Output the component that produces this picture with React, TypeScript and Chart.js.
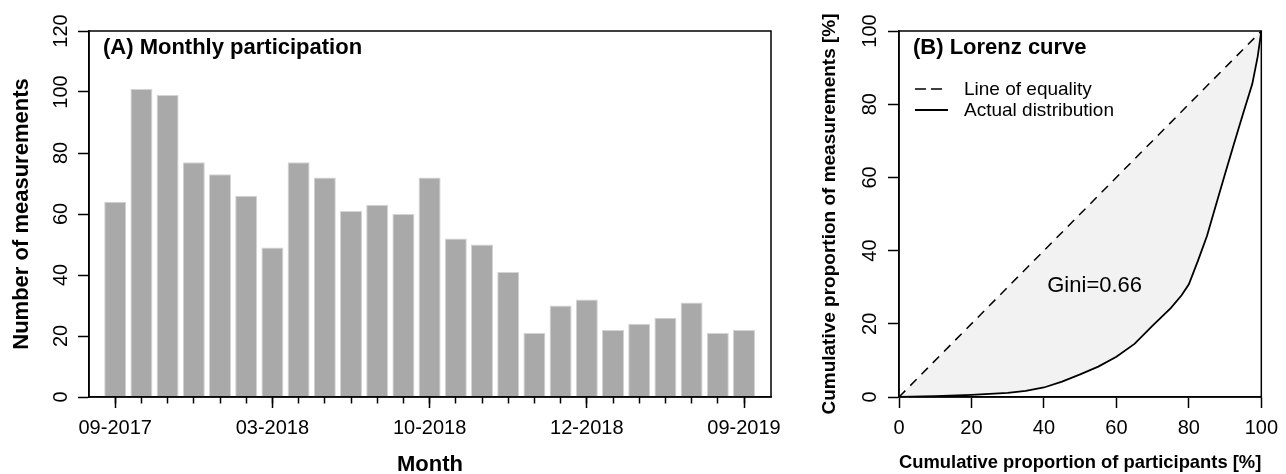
import React, { useEffect, useRef } from 'react';
import { Chart, registerables } from 'chart.js';

Chart.register(...registerables);

// ---------- Data ----------
const monthIndex = [0, 1, 2, 3, 4, 5, 6, 7, 8, 9, 10, 11, 12, 13, 14, 15, 16, 17, 18, 19, 20, 21, 22, 23, 24];
const measurements = [64, 101, 99, 77, 73, 66, 49, 77, 72, 61, 63, 60, 72, 52, 50, 41, 21, 30, 32, 22, 24, 26, 31, 21, 22];
const monthTickPositions = [0, 6, 12, 18, 24];
const monthTickLabels = ['09-2017', '03-2018', '10-2018', '12-2018', '09-2019'];

const lorenzX = [0, 10, 20, 30, 35, 40, 45, 50, 55, 60, 65, 70, 75, 78, 80, 82.5, 85, 87.5, 90, 92.5, 95, 97.5, 99, 100];
const lorenzY = [0, 0.2, 0.6, 1.1, 1.7, 2.6, 4.2, 6.2, 8.3, 11, 14.5, 19.5, 24.3, 27.8, 30.8, 37.2, 44, 52.5, 61, 69.3, 77.5, 85.5, 93, 100];
const equalityX = [0, 100];
const equalityY = [0, 100];
const percentTicks = [0, 20, 40, 60, 80, 100];
const giniLabel = 'Gini=0.66';
const giniX = 54;
const giniY = 30.3;

const FONT = '"Liberation Sans", Arial, sans-serif';
const X_MIN = -1;
const X_MAX = 25.03;

function framePlugin(title: string) {
  return {
    id: 'frame',
    afterDraw(chart: any) {
      const { ctx, chartArea } = chart;
      ctx.save();
      ctx.strokeStyle = '#000';
      ctx.lineWidth = 1.5;
      ctx.setLineDash([]);
      ctx.strokeRect(chartArea.left, chartArea.top, chartArea.right - chartArea.left, chartArea.bottom - chartArea.top);
      ctx.fillStyle = '#000';
      ctx.font = `bold 22px ${FONT}`;
      ctx.textAlign = 'left';
      ctx.textBaseline = 'middle';
      ctx.fillText(title, chartArea.left + 14, chartArea.top + 17);
      ctx.restore();
    },
  };
}

const lorenzExtrasPlugin = {
  id: 'lorenzExtras',
  afterDraw(chart: any) {
    const { ctx, chartArea, scales } = chart;
    ctx.save();
    ctx.fillStyle = '#000';
    ctx.font = `22px ${FONT}`;
    ctx.textAlign = 'center';
    ctx.textBaseline = 'middle';
    ctx.fillText(giniLabel, scales.x.getPixelForValue(giniX), scales.y.getPixelForValue(giniY));
    // legend
    chart.data.datasets.forEach((ds: any, i: number) => {
      const y = chartArea.top + 58 + i * 21;
      const dashed = (ds.borderDash || []).length > 0;
      ctx.strokeStyle = ds.borderColor;
      ctx.lineWidth = ds.borderWidth;
      ctx.setLineDash(dashed ? [11, 5] : []);
      ctx.beginPath();
      ctx.moveTo(chartArea.left + 16, y);
      ctx.lineTo(chartArea.left + (dashed ? 43 : 49), y);
      ctx.stroke();
      ctx.setLineDash([]);
      ctx.font = `19px ${FONT}`;
      ctx.textAlign = 'left';
      ctx.fillText(ds.label, chartArea.left + 65, y + 1);
    });
    ctx.restore();
  },
};

export default function App() {
  const refA = useRef<HTMLCanvasElement>(null);
  const refB = useRef<HTMLCanvasElement>(null);

  useEffect(() => {
    Chart.defaults.color = '#000';
    Chart.defaults.font.family = FONT;

    const tickGrid = {
      offset: false,
      drawOnChartArea: false,
      drawTicks: true,
      tickLength: 11,
      tickColor: '#000',
      tickWidth: 1.5,
      color: '#000',
    };
    const border = { display: true, color: '#000', width: 1.5 };

    const chartA = new Chart(refA.current!, {
      type: 'bar',
      data: {
        datasets: [
          {
            label: 'Number of measurements',
            data: monthIndex.map((m, i) => ({ x: m, y: measurements[i] })),
            backgroundColor: '#a9a9a9',
            borderColor: '#d4d4d4',
            borderWidth: 1,
            barPercentage: 0.84,
            categoryPercentage: 1,
          },
        ],
      },
      options: {
        animation: false,
        responsive: false,
        layout: { padding: { top: 31, right: 19, left: 0, bottom: 0 } },
        plugins: { legend: { display: false }, tooltip: { enabled: false } },
        scales: {
          xMinor: {
            type: 'linear',
            display: true,
            position: 'bottom',
            weight: -1,
            min: X_MIN,
            max: X_MAX,
            offset: false,
            afterBuildTicks: (scale: any) => {
              scale.ticks = monthIndex.map((v) => ({ value: v }));
            },
            afterFit: (scale: any) => {
              scale.height = 0;
            },
            ticks: { display: false, autoSkip: false },
            grid: { ...tickGrid, tickLength: 6.5 },
            border: { display: false },
          },
          x: {
            type: 'linear',
            position: 'bottom',
            weight: 0,
            min: X_MIN,
            max: X_MAX,
            offset: false,
            afterBuildTicks: (scale: any) => {
              scale.ticks = monthTickPositions.map((v) => ({ value: v }));
            },
            afterFit: (scale: any) => {
              scale.height = 77;
            },
            ticks: {
              font: { size: 20 },
              padding: 8,
              maxRotation: 0,
              minRotation: 0,
              autoSkip: false,
              callback: (v: any) => monthTickLabels[monthTickPositions.indexOf(v)] ?? '',
            },
            grid: tickGrid,
            border,
            title: {
              display: true,
              text: 'Month',
              font: { size: 22, weight: 'bold', lineHeight: 0.8 },
              padding: { top: 0, bottom: 0 },
            },
          },
          y: {
            min: 0,
            max: 120,
            afterFit: (scale: any) => {
              scale.width = 89;
            },
            ticks: {
              stepSize: 20,
              font: { size: 20 },
              padding: 0,
              minRotation: 90,
              maxRotation: 90,
              crossAlign: 'center',
            },
            grid: tickGrid,
            border,
            title: {
              display: true,
              text: 'Number of measurements',
              font: { size: 22, weight: 'bold', lineHeight: 1.2 },
              padding: { top: 9, bottom: 0 },
            },
          },
        },
      } as any,
      plugins: [framePlugin('(A) Monthly participation')],
    });

    const chartB = new Chart(refB.current!, {
      type: 'line',
      data: {
        datasets: [
          {
            label: 'Line of equality',
            data: equalityX.map((x, i) => ({ x, y: equalityY[i] })),
            borderColor: '#000',
            borderWidth: 1.5,
            borderDash: [9, 7],
            pointRadius: 0,
            fill: false,
          },
          {
            label: 'Actual distribution',
            data: lorenzX.map((x, i) => ({ x, y: lorenzY[i] })),
            borderColor: '#000',
            borderWidth: 1.8,
            pointRadius: 0,
            backgroundColor: '#f2f2f2',
            fill: { target: 0 },
          },
        ],
      },
      options: {
        animation: false,
        responsive: false,
        layout: { padding: { top: 31, right: 20, left: 0, bottom: 0 } },
        plugins: { legend: { display: false }, tooltip: { enabled: false } },
        scales: {
          x: {
            type: 'linear',
            min: 0,
            max: 100,
            afterBuildTicks: (scale: any) => {
              scale.ticks = percentTicks.map((v) => ({ value: v }));
            },
            afterFit: (scale: any) => {
              scale.height = 77;
            },
            ticks: { font: { size: 20 }, padding: 8, maxRotation: 0, minRotation: 0, autoSkip: false },
            grid: tickGrid,
            border,
            title: {
              display: true,
              text: 'Cumulative proportion of participants [%]',
              font: { size: 19, weight: 'bold', lineHeight: 1.2 },
              padding: { top: 0, bottom: 0 },
            },
          },
          y: {
            type: 'linear',
            min: 0,
            max: 100,
            afterBuildTicks: (scale: any) => {
              scale.ticks = percentTicks.map((v) => ({ value: v }));
            },
            afterFit: (scale: any) => {
              scale.width = 109;
            },
            ticks: {
              font: { size: 20 },
              padding: 1,
              minRotation: 90,
              maxRotation: 90,
              crossAlign: 'center',
            },
            grid: tickGrid,
            border,
            title: {
              display: true,
              text: 'Cumulative proportion of measurements [%]',
              font: { size: 19, weight: 'bold', lineHeight: 1.2 },
              padding: { top: 28.6, bottom: 0 },
            },
          },
        },
      } as any,
      plugins: [framePlugin('(B) Lorenz curve'), lorenzExtrasPlugin],
    });

    return () => {
      chartA.destroy();
      chartB.destroy();
    };
  }, []);

  return (
    <div style={{ position: 'fixed', left: 0, top: 0, width: 1286, height: 474, background: '#fff' }}>
      <canvas ref={refA} width={790} height={474} style={{ position: 'absolute', left: 0, top: 0, width: 790, height: 474 }} />
      <canvas ref={refB} width={496} height={474} style={{ position: 'absolute', left: 790, top: 0, width: 496, height: 474 }} />
    </div>
  );
}
